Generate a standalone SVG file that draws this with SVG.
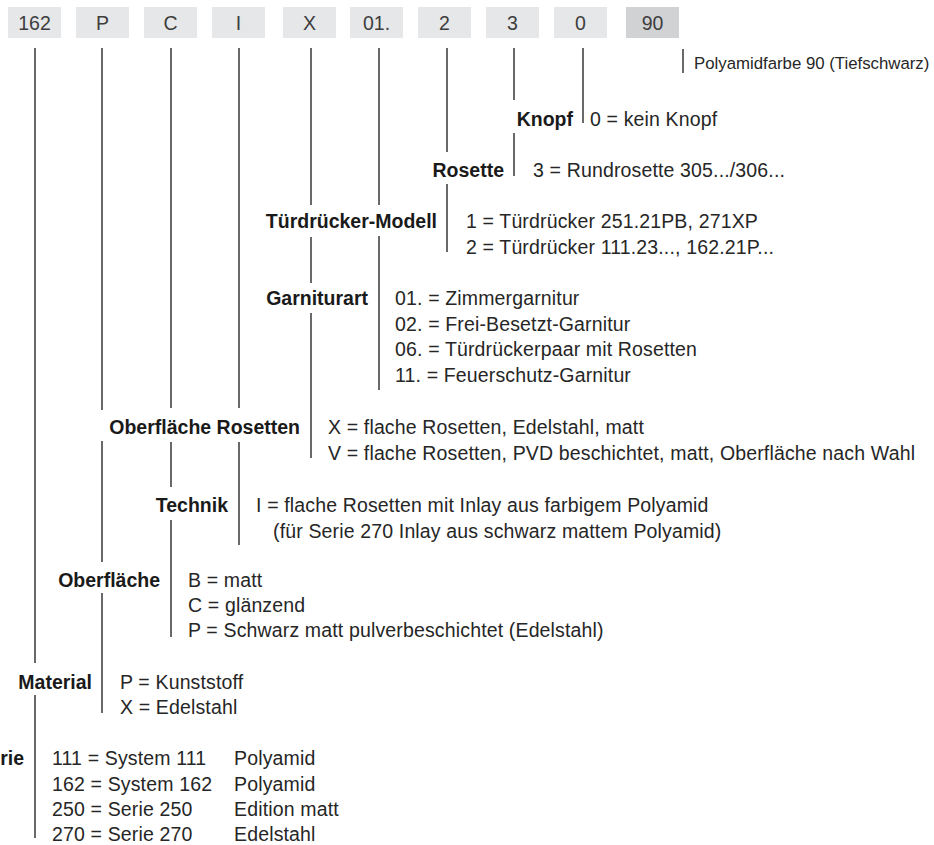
<svg xmlns="http://www.w3.org/2000/svg" width="934" height="845" viewBox="0 0 934 845">
<style>
.box{fill:#e6e7e8}
.box2{fill:#d1d2d4}
.bt{font-family:"Liberation Sans",Arial,sans-serif;font-size:19.5px;fill:#3d3d3d;text-anchor:middle}
.t{font-family:"Liberation Sans",Arial,sans-serif;font-size:19.5px;letter-spacing:0.15px;fill:#262626}
.tp{font-family:"Liberation Sans",Arial,sans-serif;font-size:16.8px;fill:#262626}
.b{font-family:"Liberation Sans",Arial,sans-serif;font-size:19.5px;font-weight:bold;fill:#1a1a1a;text-anchor:end}
.ln{stroke:#1a1a1a;stroke-width:1.3;fill:none}
</style>
<rect width="934" height="845" fill="#ffffff"/>
<g id="codes">
<g id="c162"><rect class="box" x="8" y="7" width="53" height="31"/><text class="bt" x="34.5" y="29.5">162</text></g>
<g id="cP"><rect class="box" x="76" y="7" width="53" height="31"/><text class="bt" x="102.5" y="29.5">P</text></g>
<g id="cC"><rect class="box" x="144" y="7" width="53" height="31"/><text class="bt" x="170.5" y="29.5">C</text></g>
<g id="cI"><rect class="box" x="212" y="7" width="53" height="31"/><text class="bt" x="238.5" y="29.5">I</text></g>
<g id="cX"><rect class="box" x="283" y="7" width="53" height="31"/><text class="bt" x="309.5" y="29.5">X</text></g>
<g id="c01"><rect class="box" x="350" y="7" width="53" height="31"/><text class="bt" x="376.5" y="29.5">01.</text></g>
<g id="c2"><rect class="box" x="418" y="7" width="53" height="31"/><text class="bt" x="444.5" y="29.5">2</text></g>
<g id="c3"><rect class="box" x="486" y="7" width="53" height="31"/><text class="bt" x="512.5" y="29.5">3</text></g>
<g id="c0"><rect class="box" x="554" y="7" width="53" height="31"/><text class="bt" x="580.5" y="29.5">0</text></g>
<g id="c90"><rect class="box2" x="626" y="7" width="53" height="31"/><text class="bt" x="652.5" y="29.5">90</text></g>
</g>
<g id="connectors">
<path class="ln" d="M683 49V73"/>
<path class="ln" d="M583 48V123"/>
<path class="ln" d="M514 48V100M514 133V176"/>
<path class="ln" d="M447 48V152M447 184V252"/>
<path class="ln" d="M379 48V205M379 236V390"/>
<path class="ln" d="M311 48V205M311 237V283M311 313V458"/>
<path class="ln" d="M239 48V408M239 442V545"/>
<path class="ln" d="M171 48V408M171 442V487M171 520V637"/>
<path class="ln" d="M102 48V410M102 441V562M102 593V713"/>
<path class="ln" d="M35 48V663M35 695V838"/>
</g>
<g id="farbe"><text class="tp" x="694" y="69">Polyamidfarbe 90 (Tiefschwarz)</text></g>
<g id="knopf"><text class="b" x="573" y="126">Knopf</text><text class="t" x="590" y="126">0 = kein Knopf</text></g>
<g id="rosette"><text class="b" x="504" y="177">Rosette</text><text class="t" x="533" y="177">3 = Rundrosette 305.../306...</text></g>
<g id="modell"><text class="b" x="437" y="228">Türdrücker-Modell</text>
<text class="t" x="466" y="228">1 = Türdrücker 251.21PB, 271XP</text>
<text class="t" x="466" y="254">2 = Türdrücker 111.23..., 162.21P...</text></g>
<g id="garniturart"><text class="b" x="368" y="305">Garniturart</text>
<text class="t" x="395" y="305">01. = Zimmergarnitur</text>
<text class="t" x="395" y="330.5">02. = Frei-Besetzt-Garnitur</text>
<text class="t" x="395" y="356">06. = Türdrückerpaar mit Rosetten</text>
<text class="t" x="395" y="381.5">11. = Feuerschutz-Garnitur</text></g>
<g id="oberflaeche-rosetten"><text class="b" x="300" y="434">Oberfläche Rosetten</text>
<text class="t" x="328" y="434">X = flache Rosetten, Edelstahl, matt</text>
<text class="t" x="328" y="460">V = flache Rosetten, PVD beschichtet, matt, Oberfläche nach Wahl</text></g>
<g id="technik"><text class="b" x="228" y="512">Technik</text>
<text class="t" x="256" y="512">I = flache Rosetten mit Inlay aus farbigem Polyamid</text>
<text class="t" x="273" y="538">(für Serie 270 Inlay aus schwarz mattem Polyamid)</text></g>
<g id="oberflaeche"><text class="b" x="160" y="587">Oberfläche</text>
<text class="t" x="188" y="587">B = matt</text>
<text class="t" x="188" y="612">C = glänzend</text>
<text class="t" x="188" y="637">P = Schwarz matt pulverbeschichtet (Edelstahl)</text></g>
<g id="material"><text class="b" x="92" y="689">Material</text>
<text class="t" x="120" y="689">P = Kunststoff</text>
<text class="t" x="120" y="714">X = Edelstahl</text></g>
<g id="serie"><text class="b" x="24" y="765">Serie</text>
<text class="t" x="52" y="765">111 = System 111</text><text class="t" x="234" y="765">Polyamid</text>
<text class="t" x="52" y="790.5">162 = System 162</text><text class="t" x="234" y="790.5">Polyamid</text>
<text class="t" x="52" y="816">250 = Serie 250</text><text class="t" x="234" y="816">Edition matt</text>
<text class="t" x="52" y="841">270 = Serie 270</text><text class="t" x="234" y="841">Edelstahl</text></g>
</svg>
